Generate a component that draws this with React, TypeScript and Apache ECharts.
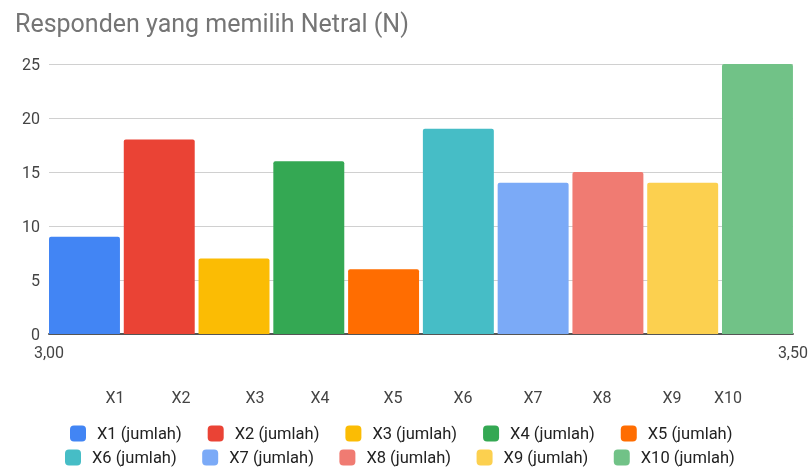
import React, { useEffect, useRef } from "react";
import * as echarts from "echarts";

const TITLE = "Responden yang memilih Netral (N)";
const categories = ["X1", "X2", "X3", "X4", "X5", "X6", "X7", "X8", "X9", "X10"];
const values = [9, 18, 7, 16, 6, 19, 14, 15, 14, 25];
const colors = ["#4285F4", "#EA4335", "#FBBC04", "#34A853", "#FF6D01", "#46BDC6", "#7BAAF7", "#F07B72", "#FCD04F", "#71C287"];
const seriesSuffix = " (jumlah)";
const yTicks = { min: 0, max: 25, interval: 5 };
const xRange = { min: 3, max: 3.5, interval: 0.5 };
// layout: x centres of the lower category labels
const labelX = [115, 181, 255, 320, 393, 463, 533, 602, 672, 728];

const FONT = "Roboto, 'Noto Sans', sans-serif";

export default function App() {
  const ref = useRef<HTMLDivElement>(null);
  useEffect(() => {
    if (!ref.current) return;
    const chart = echarts.init(ref.current, undefined, { renderer: "svg" });
    const names = categories.map((c) => c + seriesSuffix);
    const legendBase = {
      padding: 0,
      itemWidth: 16,
      itemHeight: 16,
      icon: "roundRect",
      textStyle: { fontFamily: FONT, fontSize: 16.5, lineHeight: 16, color: "#222", padding: [0, 0, 0, 6] },
    };
    const option: any = {
      animation: false,
      textStyle: { fontFamily: FONT },
      title: {
        text: TITLE,
        left: 10,
        top: 6,
        textStyle: { fontFamily: FONT, fontSize: 25, fontWeight: "normal", color: "#757575" },
      },
      grid: { left: 49, right: 18, top: 64, bottom: 134, containLabel: false },
      legend: [
        { ...legendBase, itemGap: 26, data: names.slice(0, 5), left: 70, top: 425 },
        { ...legendBase, itemGap: 25.5, data: names.slice(5), left: 65, top: 449 },
      ],
      xAxis: [
        { type: "category", data: ["all"], show: false },
        {
          type: "value",
          position: "bottom",
          min: xRange.min,
          max: xRange.max,
          interval: xRange.interval,
          axisLine: { show: true, lineStyle: { color: "#555", width: 2 } },
          axisTick: { show: false },
          splitLine: { show: false },
          axisLabel: {
            margin: 10,
            fontFamily: FONT,
            fontSize: 16,
            color: "#444",
            formatter: (v: number) => v.toFixed(2).replace(".", ","),
          },
        },
      ],
      yAxis: {
        type: "value",
        min: yTicks.min,
        max: yTicks.max,
        interval: yTicks.interval,
        axisLine: { show: false },
        axisTick: { show: false },
        splitLine: { lineStyle: { color: "#d0d0d0", width: 1 } },
        axisLabel: { margin: 9, fontFamily: FONT, fontSize: 16, color: "#444" },
      },
      series: categories.map((c, i) => ({
        type: "bar",
        name: names[i],
        xAxisIndex: 0,
        data: [values[i]],
        barCategoryGap: "0%",
        barGap: "5.4%",
        itemStyle: { color: colors[i], borderRadius: [2, 2, 0, 0] },
      })),
      graphic: categories.map((c, i) => ({
        type: "text",
        x: labelX[i],
        y: 397,
        style: {
          text: c,
          fontFamily: FONT,
          fontSize: 16,
          fill: "#444",
          align: "center",
          verticalAlign: "middle",
        },
      })),
    };
    chart.setOption(option);
    return () => chart.dispose();
  }, []);
  return (
    <div
      ref={ref}
      style={{ position: "fixed", left: 0, top: 0, width: 811, height: 468 }}
    />
  );
}
